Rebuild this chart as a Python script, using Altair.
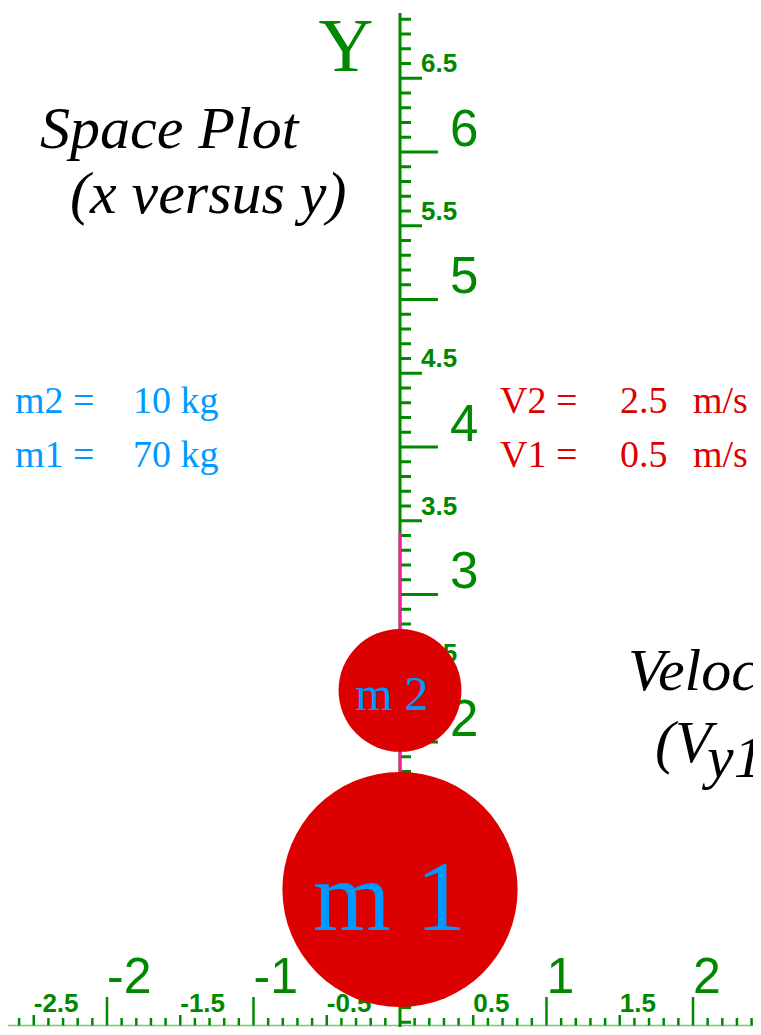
import altair as alt
import pandas as pd

# ---------------- data ----------------
mass_names = ["m 1", "m 2"]
mass_kg = [70, 10]
mass_x = [0.0, 0.0]
mass_y = [1.0, 2.35]
mass_radius = [0.80, 0.418]
velocity = [0.5, 2.5]

x_major = [-2, -1, 1, 2]
x_half = [-2.5, -1.5, -0.5, 0.5, 1.5]
y_major = [2, 3, 4, 5, 6]
y_half = [2.5, 3.5, 4.5, 5.5, 6.5]
trace_y = [3.42, 1.0]

info_left = ["m2 =", "m1 ="]
info_left_val = ["10 kg", "70 kg"]
info_right = ["V2 =", "V1 ="]
info_right_val = ["2.5", "0.5"]

# ---------------- style ----------------
GREEN = "#008800"
RED = "#dd0000"
BLUE = "#0099ff"
PINK = "#ff1a9c"
W, H = 761, 1035
XD = [-2.7304, 2.4642]
YD = [0.01356, 7.0305]
PX = 147.0  # pixels per data unit (approx.)
X_BASE = 0.078

sx = alt.Scale(domain=XD, nice=False, zero=False)
sy = alt.Scale(domain=YD, nice=False, zero=False)


def X(f):
    return alt.X(f, type="quantitative", scale=sx, axis=None)


def Y(f):
    return alt.Y(f, type="quantitative", scale=sy, axis=None)


def is_int(v):
    return abs(v - round(v)) < 1e-9


def is_half(v):
    return abs(v * 2 - round(v * 2)) < 1e-9


# ---------------- axes ----------------
y_ticks = [round(i * 0.1, 1) for i in range(1, 70)]
ytk = pd.DataFrame({"v": y_ticks})
ytk["x0"] = 0.0
ytk["len"] = [0.259 if is_int(v) else (0.150 if is_half(v) else 0.075) for v in y_ticks]

x_ticks = [round(i * 0.1, 1) for i in range(-27, 25) if i != 0]
xtk = pd.DataFrame({"v": x_ticks})
xtk["base"] = X_BASE
xtk["top"] = [0.271 if is_int(v) else (0.149 if is_half(v) else 0.129) for v in x_ticks]

axis_lines = pd.DataFrame({"x": [0.0, XD[0]], "x2": [0.0, XD[1]], "y": [YD[0], X_BASE], "y2": [6.942, X_BASE], "c": ["y", "x"]})

yaxis_line = alt.Chart(axis_lines[axis_lines.c == "y"]).mark_rule(color=GREEN, strokeWidth=3).encode(
    x=X("x"), y=Y("y"), y2="y2")
xaxis_line = alt.Chart(axis_lines[axis_lines.c == "x"]).mark_rule(color="#7cc47c", strokeWidth=1.5).encode(
    x=X("x"), x2="x2", y=Y("y"))

ytick_layer = alt.Chart(ytk).mark_rule(color=GREEN, strokeWidth=3).encode(
    x=X("x0"), x2="len", y=Y("v"))
xtick_layer = alt.Chart(xtk).mark_rule(color=GREEN, strokeWidth=2.5).encode(
    x=X("v"), y=Y("base"), y2="top")

ymaj = pd.DataFrame({"v": y_major, "t": [f"{v:g}" for v in y_major]})
ymaj["x"] = 0.341
yhalf = pd.DataFrame({"v": y_half, "t": [f"{v:g}" for v in y_half]})
yhalf["x"] = 0.143

ymaj_lbl = alt.Chart(ymaj).mark_text(align="left", baseline="alphabetic", dy=-6, font="Liberation Sans",
                                     fontSize=51, color=GREEN).encode(x=X("x"), y=Y("v"), text="t")
yhalf_lbl = alt.Chart(yhalf).mark_text(align="left", baseline="alphabetic", dy=-6, font="Liberation Sans",
                                       fontWeight="bold", fontSize=26, color=GREEN).encode(x=X("x"), y=Y("v"), text="t")

xmaj = pd.DataFrame({"v": x_major, "t": [(f"{v:g}" if v < 0 else "\u00a0" + f"{v:g}") for v in x_major]})
xmaj["y"] = 0.298
xhalf = pd.DataFrame({"v": x_half, "t": [f"{v:g}" for v in x_half]})
xhalf["y"] = 0.17

xmaj_lbl = alt.Chart(xmaj).mark_text(align="left", baseline="alphabetic", font="Liberation Sans",
                                     fontSize=50, color=GREEN).encode(x=X("v"), y=Y("y"), text="t")
xhalf_lbl = alt.Chart(xhalf).mark_text(align="left", baseline="alphabetic", font="Liberation Sans",
                                       fontWeight="bold", fontSize=26, color=GREEN).encode(x=X("v"), y=Y("y"), text="t")

# ---------------- trace & masses ----------------
trace = pd.DataFrame({"x": [0.0], "y": [trace_y[0]], "y2": [trace_y[1]]})
trace_layer = alt.Chart(trace).mark_rule(color=PINK, strokeWidth=3).encode(x=X("x"), y=Y("y"), y2="y2")

masses = pd.DataFrame({"name": mass_names, "kg": mass_kg, "x": mass_x, "y": mass_y, "r": mass_radius})
masses["r2"] = masses["r"] ** 2
circles = alt.Chart(masses).mark_circle(opacity=1, color=RED).encode(
    x=X("x"), y=Y("y"),
    size=alt.Size("r2:Q", scale=alt.Scale(domain=[0, 1], range=[0, 4 * PX * PX]), legend=None))

m1_lbl = alt.Chart(masses.iloc[[0]].assign(lx=-0.072, ly=0.725)).mark_text(
    align="center", baseline="alphabetic", font="Liberation Serif", fontSize=100, color=BLUE).encode(
    x=X("lx"), y=Y("ly"), text="name")
m2_lbl = alt.Chart(masses.iloc[[1]].assign(lx=-0.055, ly=2.217)).mark_text(
    align="center", baseline="alphabetic", font="Liberation Serif", fontSize=48, color=BLUE).encode(
    x=X("lx"), y=Y("ly"), text="name")

# ---------------- info texts ----------------
rows_y = [4.231, 3.864]
left_df = pd.DataFrame({"t": info_left, "x": -2.628, "y": rows_y})
leftv_df = pd.DataFrame({"t": info_left_val, "x": -1.823, "y": rows_y})
right_df = pd.DataFrame({"t": info_right, "x": 0.683, "y": rows_y})
rightv_df = pd.DataFrame({"t": info_right_val, "x": 1.502, "y": rows_y})
unit_df = pd.DataFrame({"t": ["m/s", "m/s"], "x": 2.0, "y": rows_y})


def info(df, color):
    return alt.Chart(df).mark_text(align="left", baseline="alphabetic", font="Liberation Serif",
                                   fontSize=38, color=color).encode(x=X("x"), y=Y("y"), text="t")


# ---------------- titles ----------------
titles = pd.DataFrame({
    "t": ["Space Plot", "(x versus y)", "Velocity Plot", "(V", "y1 versus t)"],
    "x": [-2.457, -2.253, 1.556, 1.741, 2.096],
    "y": [6.027, 5.586, 2.353, 1.864, 1.763],
})
title_layer = alt.Chart(titles).mark_text(align="left", baseline="alphabetic", font="Liberation Serif",
                                          fontStyle="italic", fontSize=60, color="black").encode(
    x=X("x"), y=Y("y"), text="t")

ylab = pd.DataFrame({"t": ["Y"], "x": [-0.369], "y": [6.549]})
ylab_layer = alt.Chart(ylab).mark_text(align="center", baseline="alphabetic", font="Liberation Serif",
                                       fontSize=76, color=GREEN).encode(x=X("x"), y=Y("y"), text="t")

chart = alt.layer(
    xaxis_line, yaxis_line, ytick_layer, xtick_layer,
    ymaj_lbl, yhalf_lbl, xmaj_lbl, xhalf_lbl,
    trace_layer, circles, m1_lbl, m2_lbl,
    info(left_df, BLUE), info(leftv_df, BLUE), info(right_df, RED), info(rightv_df, RED), info(unit_df, RED),
    title_layer, ylab_layer,
).properties(
    width=W, height=H,
    padding={"left": -8, "top": -8, "right": -8, "bottom": -8},
    autosize=alt.AutoSizeParams(type="none"), background="white"
).configure_view(stroke=None)

chart.save("out.html", embed_options={"renderer": "svg", "actions": False})
